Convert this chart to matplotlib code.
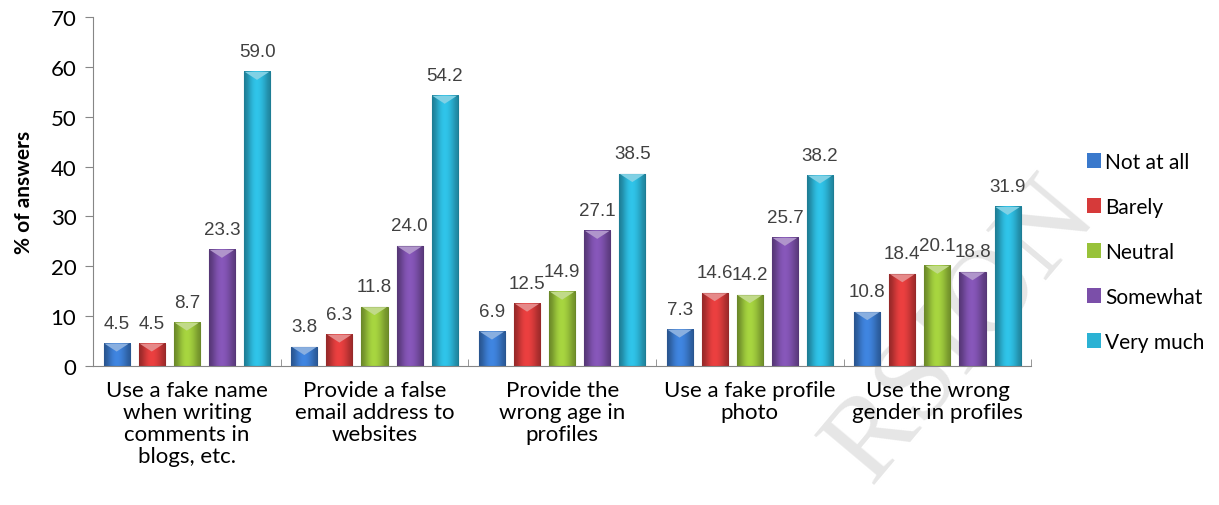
import matplotlib
matplotlib.use("Agg")
import matplotlib.pyplot as plt
import numpy as np
from matplotlib.colors import to_rgb
from matplotlib.patches import Polygon, Rectangle

# ---- data ----
categories = [
    "Use a fake name\nwhen writing\ncomments in\nblogs, etc.",
    "Provide a false\nemail address to\nwebsites",
    "Provide the\nwrong age in\nprofiles",
    "Use a fake profile\nphoto",
    "Use the wrong\ngender in profiles",
]
series_names = ["Not at all", "Barely", "Neutral", "Somewhat", "Very much"]
not_at_all = [4.5, 3.8, 6.9, 7.3, 10.8]
barely = [4.5, 6.3, 12.5, 14.6, 18.4]
neutral = [8.7, 11.8, 14.9, 14.2, 20.1]
somewhat = [23.3, 24.0, 27.1, 25.7, 18.8]
very_much = [59.0, 54.2, 38.5, 38.2, 31.9]
series_values = [not_at_all, barely, neutral, somewhat, very_much]
y_ticks = [0, 10, 20, 30, 40, 50, 60, 70]

colors = ["#3a79cc", "#d63a3a", "#98c23a", "#7b4fa9", "#2bb2d4"]

plt.rcParams["font.family"] = ["Lato", "DejaVu Sans"]

fig = plt.figure(figsize=(12.19, 5.06), dpi=100)

# faint watermark in the background
fig.text(0.79, 0.345, "RSION", fontsize=85, color="#e6e6e6", rotation=50,
         ha="center", va="center", family="Liberation Serif", zorder=-10)

ax = fig.add_axes([0.0763, 0.2747, 0.7697, 0.6897])
ax.patch.set_alpha(0)

pitch = 0.187
width = 0.139
x = np.arange(len(categories))
shade = np.array([0.72, 0.92, 1.08, 1.12, 1.05, 0.92, 0.75])


def draw_bar(ax, xc, h, color):
    base = np.array(to_rgb(color))
    grad = np.clip(base[None, :] * shade[:, None], 0, 1)
    x0, x1 = xc - width / 2, xc + width / 2
    ax.imshow(grad[None, :, :], extent=(x0, x1, 0, h), aspect="auto",
              interpolation="bicubic", zorder=2)
    ax.add_patch(Rectangle((x0, 0), width, h, fill=False,
                           edgecolor=tuple(base * 0.7), lw=0.8, zorder=3))
    light = np.clip(base + (1 - base) * 0.4, 0, 1)
    d = min(1.6, h * 0.45)
    ax.add_patch(Polygon([(x0 + 0.004, h), (x1 - 0.004, h), (xc, h - d)],
                         closed=True, facecolor=light, edgecolor="none", zorder=3))


for i, (name, vals, col) in enumerate(zip(series_names, series_values, colors)):
    offs = (i - 2) * pitch
    for j, v in enumerate(vals):
        draw_bar(ax, x[j] + offs, v, col)
        ax.text(x[j] + offs, v + 2.4, f"{v:.1f}", ha="center", va="bottom",
                fontsize=13.5, color="#404040", family="Liberation Sans", zorder=4)
    ax.bar([0], [0], color=col, label=name)

ax.set_xlim(-0.5, len(categories) - 0.5)
ax.set_ylim(0, 70)
ax.set_yticks(y_ticks)
ax.set_yticklabels([str(t) for t in y_ticks], fontsize=16)
ax.set_xticks(x)
ax.set_xticklabels(categories, fontsize=16, linespacing=1.12)
ax.set_xticks(np.arange(len(categories) + 1) - 0.5, minor=True)
ax.tick_params(axis="x", which="major", length=0, pad=10)
ax.tick_params(axis="x", which="minor", length=5, direction="in", color="#868686")
ax.tick_params(axis="y", length=6, color="#868686", pad=6)

for s in ["top", "right"]:
    ax.spines[s].set_visible(False)
ax.spines["left"].set_color("#868686")
ax.spines["bottom"].set_color("#868686")

ax.set_ylabel("% of answers", fontsize=15, fontweight="bold", labelpad=12)

handles, labels = ax.get_legend_handles_labels()
fig.legend(handles, labels, loc="center left", bbox_to_anchor=(0.876, 0.5),
           frameon=False, fontsize=15, handlelength=0.7, handleheight=0.7,
           handletextpad=0.2, labelspacing=1.2)

fig.savefig("out.png", dpi=100)
